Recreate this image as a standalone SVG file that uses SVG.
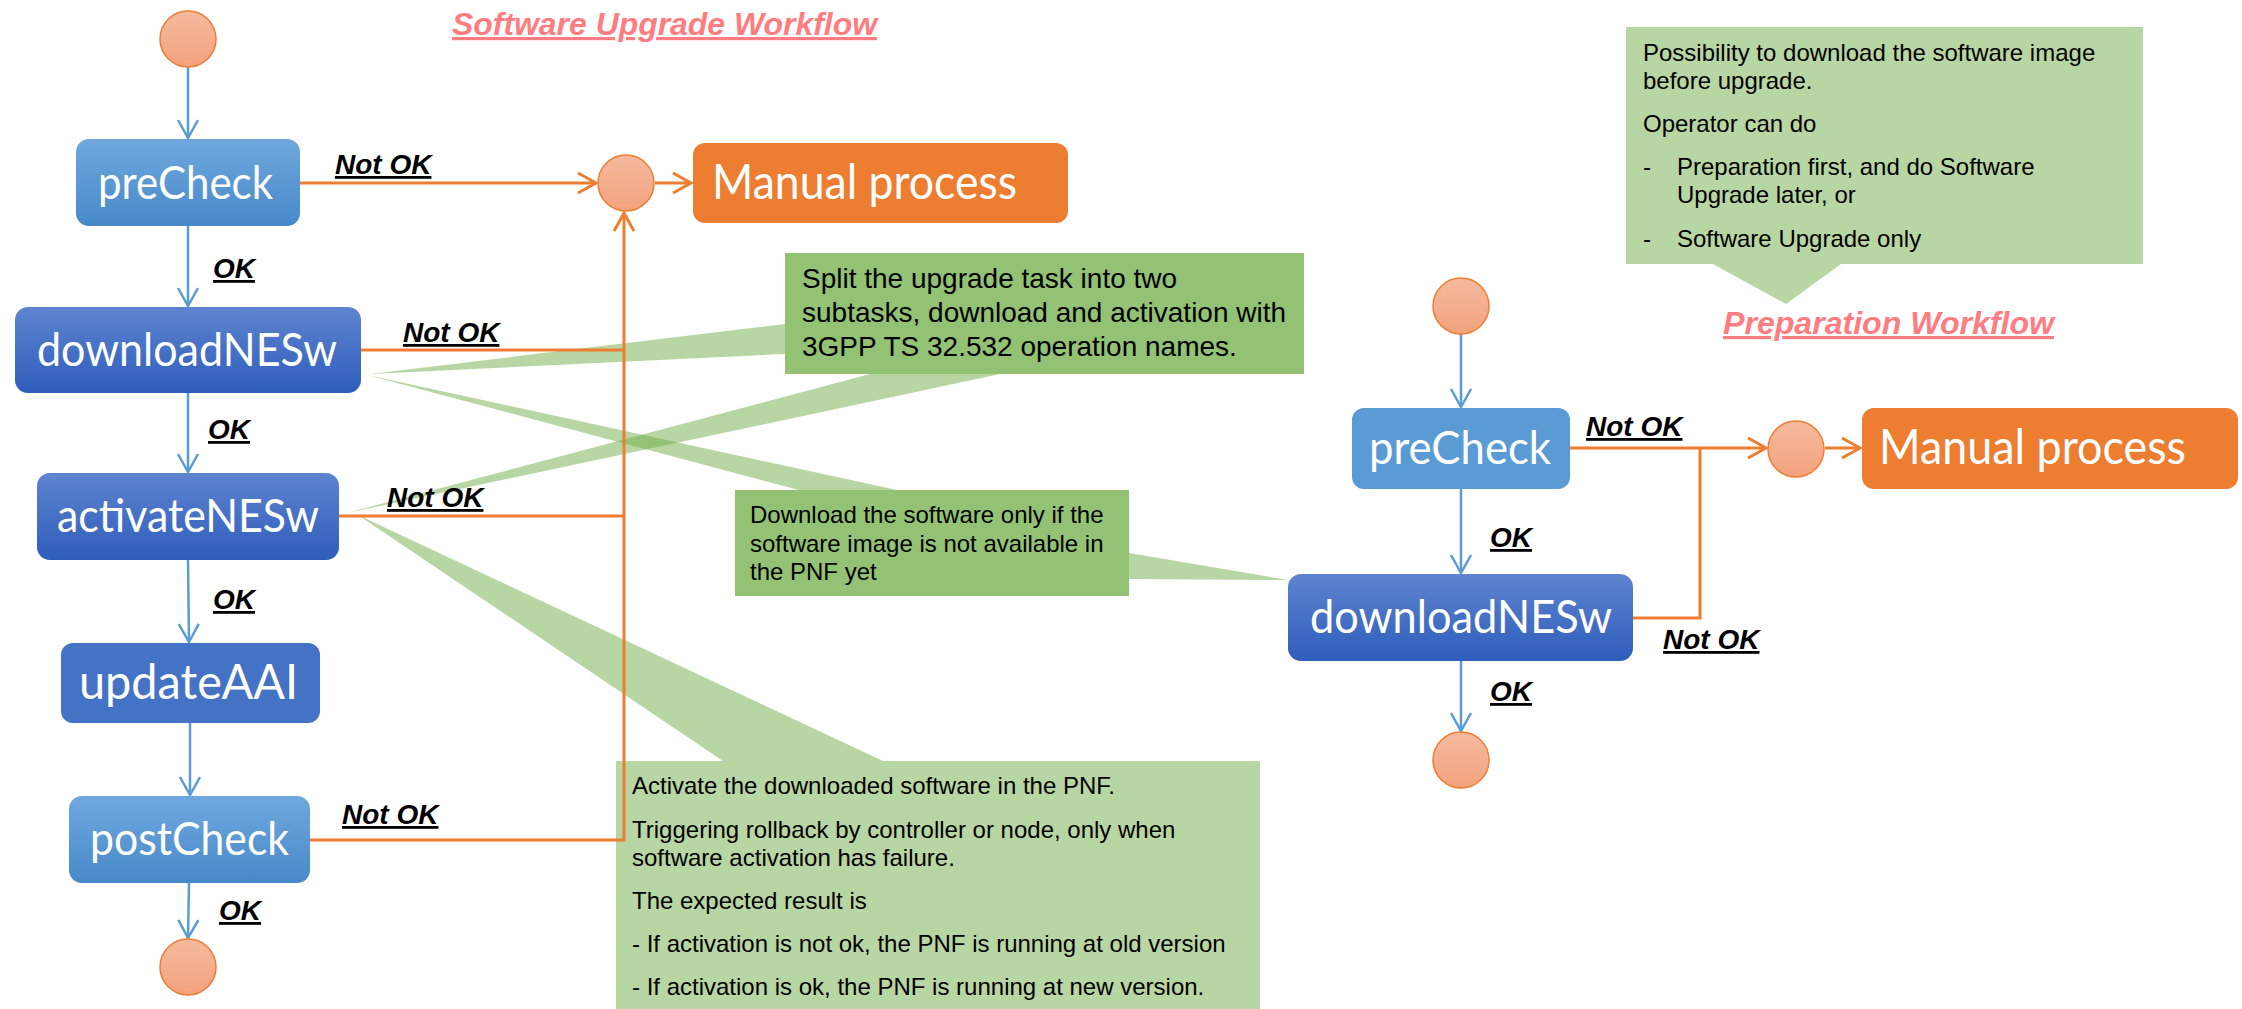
<svg xmlns="http://www.w3.org/2000/svg" width="2242" height="1009" viewBox="0 0 2242 1009">
<style>
.node{font-family:Lato,"Open Sans","Liberation Sans",sans-serif;fill:#fff;}
.lbl{font-family:"Liberation Sans",Arial,sans-serif;font-weight:bold;font-style:italic;font-size:28px;fill:#000;text-decoration:underline;}
.title{font-family:"Liberation Sans",Arial,sans-serif;font-weight:bold;font-style:italic;font-size:32px;fill:#FF7C80;text-decoration:underline;}
.note{font-family:"Liberation Sans",Arial,sans-serif;fill:#000;}
.callout{fill:#70AD47;fill-opacity:0.5;}
.blue{stroke:#5B9BD5;stroke-width:2.5;fill:none;}
.orange{stroke:#ED7D31;stroke-width:3;fill:none;}
.circ{fill:url(#gc);stroke:#ED7D31;stroke-width:1.5;}
</style>
<defs>
<linearGradient id="gc" x1="0" y1="0" x2="0" y2="1"><stop offset="0" stop-color="#F5BA9E"/><stop offset="1" stop-color="#F3A27D"/></linearGradient>
<linearGradient id="gl" x1="0" y1="0" x2="0" y2="1"><stop offset="0" stop-color="#70A8DE"/><stop offset="1" stop-color="#4789C9"/></linearGradient>
<linearGradient id="gd" x1="0" y1="0" x2="0" y2="1"><stop offset="0" stop-color="#5E84D0"/><stop offset="1" stop-color="#2F5DBB"/></linearGradient>
<marker id="ab" markerWidth="24" markerHeight="24" refX="20" refY="12" orient="auto" markerUnits="userSpaceOnUse"><path d="M2,2 L20,12 L2,22" fill="none" stroke="#5B9BD5" stroke-width="2.5"/></marker>
<marker id="ao" markerWidth="24" markerHeight="24" refX="20" refY="12" orient="auto" markerUnits="userSpaceOnUse"><path d="M2,2 L20,12 L2,22" fill="none" stroke="#ED7D31" stroke-width="3"/></marker>
</defs>
<rect width="2242" height="1009" fill="#fff"/>

<g id="callouts">
<g id="note-split">
<path class="callout" d="M785,253 H1304 V374 H785 V354 L370,374 L785,324 Z"/>
<path class="callout" d="M785,253 H1304 V374 H1000 L347,513 L870,374 H785 Z"/>
<text class="note" font-size="28"><tspan x="802" y="288">Split the upgrade task into two</tspan><tspan x="802" y="322">subtasks, download and activation with</tspan><tspan x="802" y="356">3GPP TS 32.532 operation names.</tspan></text>
</g>
<g id="note-download">
<path class="callout" d="M735,490 H799 L367,375 L897,490 H1129 V596 H735 Z"/>
<path class="callout" d="M735,490 H1129 V553 L1288,580 L1129,579 V596 H735 Z"/>
<text class="note" font-size="24"><tspan x="750" y="523">Download the software only if the</tspan><tspan x="750" y="552">software image is not available in</tspan><tspan x="750" y="580">the PNF yet</tspan></text>
</g>
<g id="note-activate">
<path class="callout" d="M616,761 H723 L358,515 L883,761 H1260 V1012 H616 Z"/>
<text class="note" font-size="24"><tspan x="632" y="794">Activate the downloaded software in the PNF.</tspan><tspan x="632" y="838">Triggering rollback by controller or node, only when</tspan><tspan x="632" y="866">software activation has failure.</tspan><tspan x="632" y="909">The expected result is</tspan><tspan x="632" y="952">- If activation is not ok, the PNF is running at old version</tspan><tspan x="632" y="995">- If activation is ok, the PNF is running at new version.</tspan></text>
</g>
<g id="note-possibility">
<path class="callout" d="M1626,27 H2143 V264 H1841 L1786,304 L1713,264 H1626 Z"/>
<text class="note" font-size="24"><tspan x="1643" y="61">Possibility to download the software image</tspan><tspan x="1643" y="89">before upgrade.</tspan><tspan x="1643" y="132">Operator can do</tspan><tspan x="1643" y="175">-</tspan><tspan x="1677" y="175">Preparation first, and do Software</tspan><tspan x="1677" y="203">Upgrade later, or</tspan><tspan x="1643" y="247">-</tspan><tspan x="1677" y="247">Software Upgrade only</tspan></text>
</g>
</g>

<text id="title-upgrade" class="title" x="452" y="35" textLength="425" lengthAdjust="spacingAndGlyphs">Software Upgrade Workflow</text>
<text id="title-prep" class="title" x="1723" y="334" textLength="331" lengthAdjust="spacingAndGlyphs">Preparation Workflow</text>

<g id="connectors">
<line class="blue" x1="188" y1="67" x2="188" y2="138" marker-end="url(#ab)"/>
<line class="blue" x1="188" y1="226" x2="188" y2="306" marker-end="url(#ab)"/>
<line class="blue" x1="188" y1="393" x2="188" y2="472" marker-end="url(#ab)"/>
<line class="blue" x1="188" y1="560" x2="189" y2="642" marker-end="url(#ab)"/>
<line class="blue" x1="190" y1="723" x2="190" y2="795" marker-end="url(#ab)"/>
<line class="blue" x1="189" y1="883" x2="188" y2="938" marker-end="url(#ab)"/>
<line class="orange" x1="300" y1="183" x2="596" y2="183" marker-end="url(#ao)"/>
<line class="orange" x1="655" y1="183" x2="691" y2="183" marker-end="url(#ao)"/>
<line class="orange" x1="361" y1="350" x2="624" y2="350"/>
<line class="orange" x1="339" y1="516" x2="624" y2="516"/>
<polyline class="orange" points="310,840 624,840 624,213" marker-end="url(#ao)"/>

<line class="blue" x1="1461" y1="334" x2="1461" y2="407" marker-end="url(#ab)"/>
<line class="blue" x1="1461" y1="489" x2="1461" y2="573" marker-end="url(#ab)"/>
<line class="blue" x1="1461" y1="661" x2="1461" y2="731" marker-end="url(#ab)"/>
<line class="orange" x1="1570" y1="448" x2="1766" y2="448" marker-end="url(#ao)"/>
<line class="orange" x1="1825" y1="448" x2="1860" y2="448" marker-end="url(#ao)"/>
<polyline class="orange" points="1633,618 1700,618 1700,448"/>
</g>

<g id="start1"><circle class="circ" cx="188" cy="39" r="28"/></g>
<g id="precheck1"><rect x="76" y="139" width="224" height="87" rx="13" fill="url(#gl)"/><text class="node" x="98" y="199" font-size="47" textLength="175" lengthAdjust="spacingAndGlyphs">preCheck</text></g>
<g id="download1"><rect x="15" y="307" width="346" height="86" rx="13" fill="url(#gd)"/><text class="node" x="37" y="366" font-size="47" textLength="300" lengthAdjust="spacingAndGlyphs">downloadNESw</text></g>
<g id="activate1"><rect x="37" y="473" width="302" height="87" rx="13" fill="url(#gd)"/><text class="node" x="57" y="532" font-size="47" textLength="262" lengthAdjust="spacingAndGlyphs">activateNESw</text></g>
<g id="updateaai1"><rect x="61" y="643" width="259" height="80" rx="12" fill="#4472C4"/><text class="node" x="79" y="699" font-size="49" textLength="219" lengthAdjust="spacingAndGlyphs">updateAAI</text></g>
<g id="postcheck1"><rect x="69" y="796" width="241" height="87" rx="13" fill="url(#gl)"/><text class="node" x="90" y="855" font-size="47" textLength="199" lengthAdjust="spacingAndGlyphs">postCheck</text></g>
<g id="end1"><circle class="circ" cx="188" cy="967" r="28"/></g>
<g id="merge1"><circle class="circ" cx="626" cy="183" r="28"/></g>
<g id="manual1"><rect x="693" y="143" width="375" height="80" rx="12" fill="#ED7D31"/><text class="node" x="712" y="199" font-size="48" textLength="305" lengthAdjust="spacingAndGlyphs">Manual process</text></g>

<g id="start2"><circle class="circ" cx="1461" cy="306" r="28"/></g>
<g id="precheck2"><rect x="1352" y="408" width="218" height="81" rx="12" fill="#5B9BD5"/><text class="node" x="1369" y="464" font-size="47" textLength="182" lengthAdjust="spacingAndGlyphs">preCheck</text></g>
<g id="download2"><rect x="1288" y="574" width="345" height="87" rx="13" fill="url(#gd)"/><text class="node" x="1310" y="633" font-size="47" textLength="302" lengthAdjust="spacingAndGlyphs">downloadNESw</text></g>
<g id="end2"><circle class="circ" cx="1461" cy="760" r="28"/></g>
<g id="merge2"><circle class="circ" cx="1796" cy="449" r="28"/></g>
<g id="manual2"><rect x="1862" y="408" width="376" height="81" rx="12" fill="#ED7D31"/><text class="node" x="1879" y="464" font-size="48" textLength="307" lengthAdjust="spacingAndGlyphs">Manual process</text></g>

<g id="labels">
<text class="lbl" x="335" y="174">Not OK</text>
<text class="lbl" x="403" y="342">Not OK</text>
<text class="lbl" x="387" y="507">Not OK</text>
<text class="lbl" x="342" y="824">Not OK</text>
<text class="lbl" x="213" y="278">OK</text>
<text class="lbl" x="208" y="439">OK</text>
<text class="lbl" x="213" y="609">OK</text>
<text class="lbl" x="219" y="920">OK</text>
<text class="lbl" x="1586" y="436">Not OK</text>
<text class="lbl" x="1663" y="649">Not OK</text>
<text class="lbl" x="1490" y="547">OK</text>
<text class="lbl" x="1490" y="701">OK</text>
</g>
</svg>
